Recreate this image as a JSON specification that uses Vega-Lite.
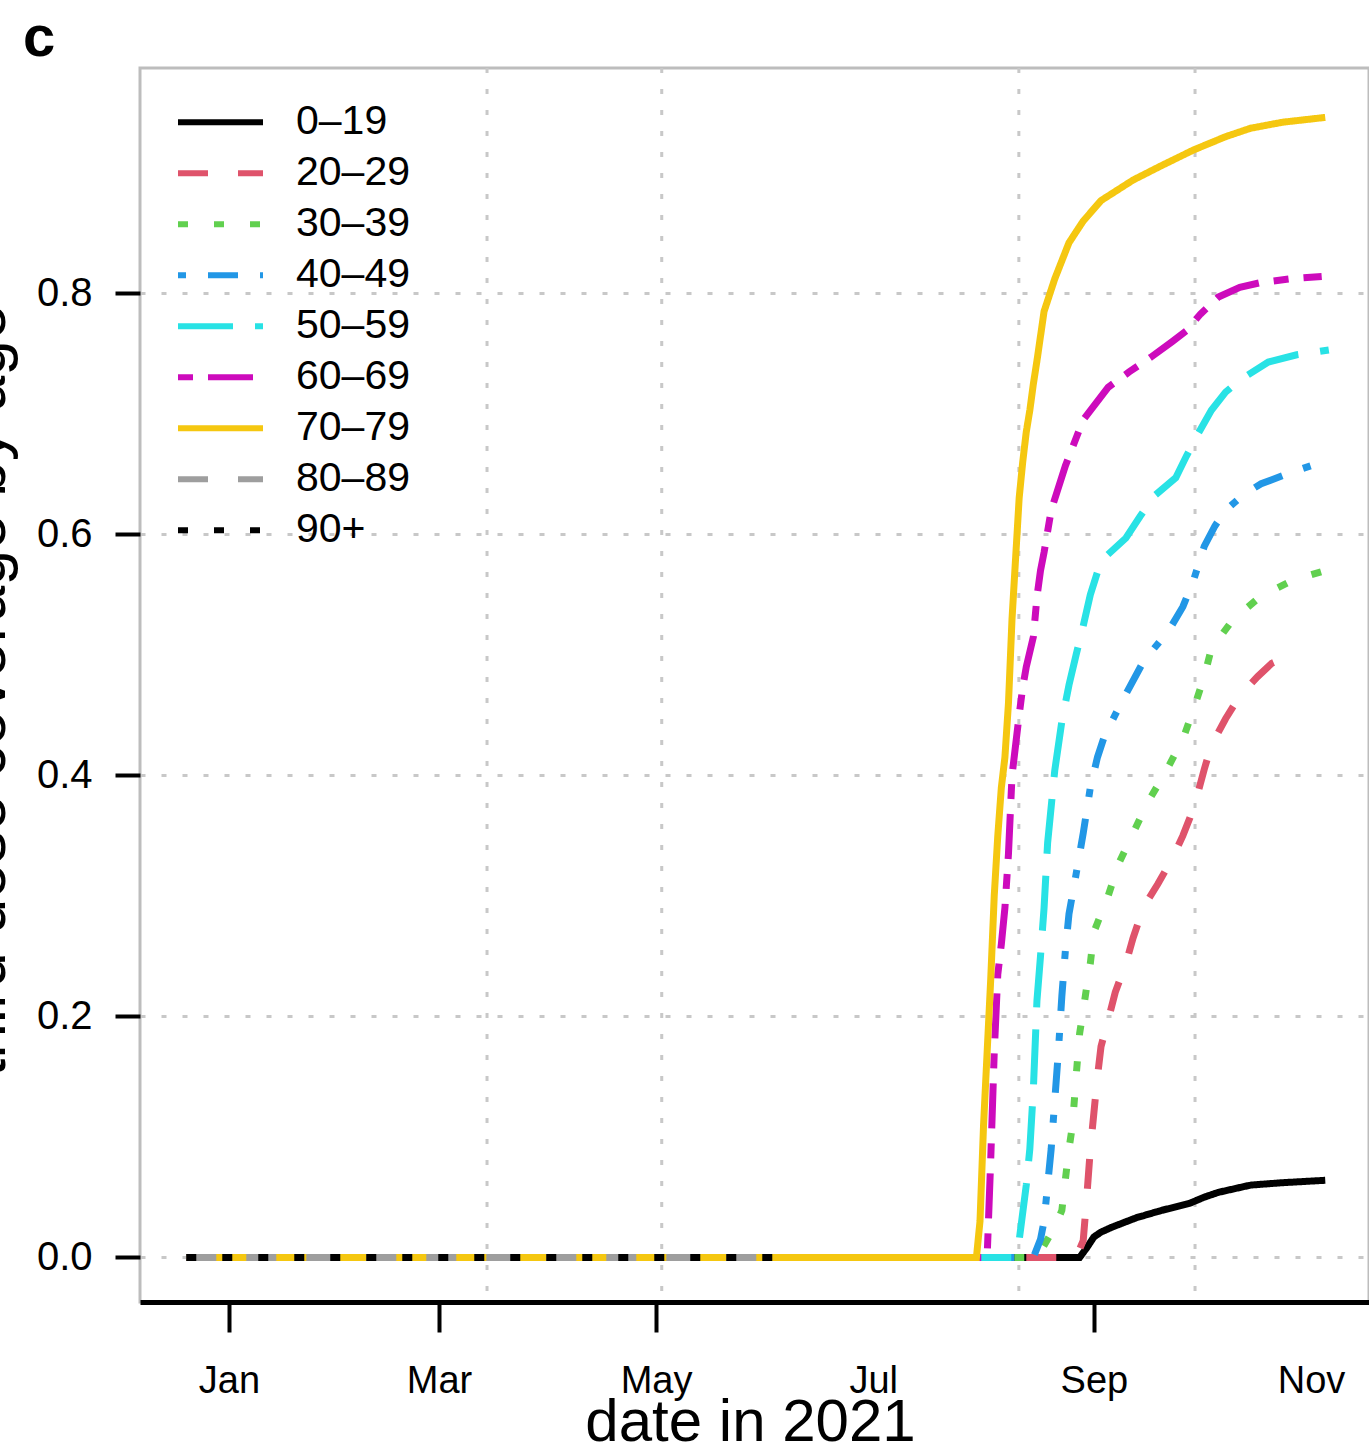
{
"$schema":"https://vega.github.io/schema/vega-lite/v6.json",
"width":1229,"height":1234,
"autosize":{"type":"none"},
"padding":{"left":140,"top":68,"right":0,"bottom":150},
"background":"white",
"config":{"font":"Liberation Sans","view":{"stroke":"#bdbdbd","strokeWidth":3}},
"title":{"text":"c","anchor":"start","frame":"group","orient":"top","fontSize":58,"fontWeight":"bold","font":"Liberation Sans","baseline":"alphabetic","offset":-47,"dx":-117,"color":"black"},
"datasets":{
"cov":[
{"g":"0–19","d":"2020-12-20","v":0},{"g":"0–19","d":"2021-08-28","v":0},{"g":"0–19","d":"2021-08-30","v":0.008},{"g":"0–19","d":"2021-09-01","v":0.017},{"g":"0–19","d":"2021-09-03","v":0.021},{"g":"0–19","d":"2021-09-06","v":0.025},{"g":"0–19","d":"2021-09-13","v":0.033},{"g":"0–19","d":"2021-09-20","v":0.039},{"g":"0–19","d":"2021-09-28","v":0.045},{"g":"0–19","d":"2021-10-02","v":0.05},{"g":"0–19","d":"2021-10-06","v":0.054},{"g":"0–19","d":"2021-10-15","v":0.06},{"g":"0–19","d":"2021-10-24","v":0.062},{"g":"0–19","d":"2021-11-05","v":0.064},
{"g":"20–29","d":"2020-12-20","v":0},{"g":"20–29","d":"2021-08-27","v":0},{"g":"20–29","d":"2021-08-29","v":0.014},{"g":"20–29","d":"2021-08-30","v":0.05},{"g":"20–29","d":"2021-08-31","v":0.09},{"g":"20–29","d":"2021-09-01","v":0.12},{"g":"20–29","d":"2021-09-02","v":0.15},{"g":"20–29","d":"2021-09-03","v":0.175},{"g":"20–29","d":"2021-09-05","v":0.197},{"g":"20–29","d":"2021-09-07","v":0.22},{"g":"20–29","d":"2021-09-10","v":0.244},{"g":"20–29","d":"2021-09-12","v":0.265},{"g":"20–29","d":"2021-09-15","v":0.291},{"g":"20–29","d":"2021-09-19","v":0.31},{"g":"20–29","d":"2021-09-23","v":0.331},{"g":"20–29","d":"2021-09-26","v":0.35},{"g":"20–29","d":"2021-09-28","v":0.365},{"g":"20–29","d":"2021-09-30","v":0.383},{"g":"20–29","d":"2021-10-02","v":0.405},{"g":"20–29","d":"2021-10-04","v":0.425},{"g":"20–29","d":"2021-10-08","v":0.447},{"g":"20–29","d":"2021-10-12","v":0.466},{"g":"20–29","d":"2021-10-17","v":0.482},{"g":"20–29","d":"2021-10-21","v":0.493},{"g":"20–29","d":"2021-10-28","v":0.502},
{"g":"30–39","d":"2020-12-20","v":0},{"g":"30–39","d":"2021-08-16","v":0},{"g":"30–39","d":"2021-08-18","v":0.01},{"g":"30–39","d":"2021-08-21","v":0.025},{"g":"30–39","d":"2021-08-23","v":0.039},{"g":"30–39","d":"2021-08-24","v":0.065},{"g":"30–39","d":"2021-08-25","v":0.09},{"g":"30–39","d":"2021-08-26","v":0.11},{"g":"30–39","d":"2021-08-27","v":0.15},{"g":"30–39","d":"2021-08-28","v":0.186},{"g":"30–39","d":"2021-08-29","v":0.205},{"g":"30–39","d":"2021-08-30","v":0.225},{"g":"30–39","d":"2021-08-31","v":0.244},{"g":"30–39","d":"2021-09-01","v":0.27},{"g":"30–39","d":"2021-09-05","v":0.3},{"g":"30–39","d":"2021-09-08","v":0.327},{"g":"30–39","d":"2021-09-12","v":0.352},{"g":"30–39","d":"2021-09-16","v":0.377},{"g":"30–39","d":"2021-09-21","v":0.402},{"g":"30–39","d":"2021-09-26","v":0.43},{"g":"30–39","d":"2021-09-29","v":0.455},{"g":"30–39","d":"2021-10-02","v":0.482},{"g":"30–39","d":"2021-10-04","v":0.505},{"g":"30–39","d":"2021-10-10","v":0.529},{"g":"30–39","d":"2021-10-18","v":0.549},{"g":"30–39","d":"2021-10-27","v":0.562},{"g":"30–39","d":"2021-11-05","v":0.57},
{"g":"40–49","d":"2020-12-20","v":0},{"g":"40–49","d":"2021-08-15","v":0},{"g":"40–49","d":"2021-08-17","v":0.015},{"g":"40–49","d":"2021-08-18","v":0.03},{"g":"40–49","d":"2021-08-19","v":0.06},{"g":"40–49","d":"2021-08-20","v":0.09},{"g":"40–49","d":"2021-08-21","v":0.13},{"g":"40–49","d":"2021-08-22","v":0.17},{"g":"40–49","d":"2021-08-23","v":0.217},{"g":"40–49","d":"2021-08-24","v":0.255},{"g":"40–49","d":"2021-08-25","v":0.285},{"g":"40–49","d":"2021-08-27","v":0.318},{"g":"40–49","d":"2021-08-29","v":0.352},{"g":"40–49","d":"2021-08-31","v":0.39},{"g":"40–49","d":"2021-09-02","v":0.415},{"g":"40–49","d":"2021-09-04","v":0.433},{"g":"40–49","d":"2021-09-09","v":0.462},{"g":"40–49","d":"2021-09-15","v":0.495},{"g":"40–49","d":"2021-09-22","v":0.52},{"g":"40–49","d":"2021-09-26","v":0.54},{"g":"40–49","d":"2021-09-29","v":0.562},{"g":"40–49","d":"2021-10-02","v":0.59},{"g":"40–49","d":"2021-10-05","v":0.607},{"g":"40–49","d":"2021-10-08","v":0.62},{"g":"40–49","d":"2021-10-13","v":0.633},{"g":"40–49","d":"2021-10-18","v":0.642},{"g":"40–49","d":"2021-10-26","v":0.651},{"g":"40–49","d":"2021-11-03","v":0.659},
{"g":"50–59","d":"2020-12-20","v":0},{"g":"50–59","d":"2021-08-09","v":0},{"g":"50–59","d":"2021-08-11","v":0.014},{"g":"50–59","d":"2021-08-13","v":0.06},{"g":"50–59","d":"2021-08-14","v":0.09},{"g":"50–59","d":"2021-08-15","v":0.14},{"g":"50–59","d":"2021-08-16","v":0.213},{"g":"50–59","d":"2021-08-17","v":0.25},{"g":"50–59","d":"2021-08-18","v":0.29},{"g":"50–59","d":"2021-08-19","v":0.344},{"g":"50–59","d":"2021-08-21","v":0.404},{"g":"50–59","d":"2021-08-23","v":0.445},{"g":"50–59","d":"2021-08-25","v":0.475},{"g":"50–59","d":"2021-08-27","v":0.5},{"g":"50–59","d":"2021-08-29","v":0.524},{"g":"50–59","d":"2021-08-31","v":0.55},{"g":"50–59","d":"2021-09-03","v":0.578},{"g":"50–59","d":"2021-09-10","v":0.597},{"g":"50–59","d":"2021-09-14","v":0.615},{"g":"50–59","d":"2021-09-18","v":0.632},{"g":"50–59","d":"2021-09-24","v":0.647},{"g":"50–59","d":"2021-09-27","v":0.665},{"g":"50–59","d":"2021-09-30","v":0.682},{"g":"50–59","d":"2021-10-04","v":0.703},{"g":"50–59","d":"2021-10-08","v":0.718},{"g":"50–59","d":"2021-10-12","v":0.728},{"g":"50–59","d":"2021-10-20","v":0.743},{"g":"50–59","d":"2021-10-28","v":0.749},{"g":"50–59","d":"2021-11-06","v":0.753},
{"g":"60–69","d":"2020-12-20","v":0},{"g":"60–69","d":"2021-08-02","v":0},{"g":"60–69","d":"2021-08-03","v":0.08},{"g":"60–69","d":"2021-08-04","v":0.17},{"g":"60–69","d":"2021-08-05","v":0.235},{"g":"60–69","d":"2021-08-06","v":0.26},{"g":"60–69","d":"2021-08-07","v":0.29},{"g":"60–69","d":"2021-08-08","v":0.335},{"g":"60–69","d":"2021-08-09","v":0.4},{"g":"60–69","d":"2021-08-10","v":0.425},{"g":"60–69","d":"2021-08-11","v":0.45},{"g":"60–69","d":"2021-08-12","v":0.473},{"g":"60–69","d":"2021-08-13","v":0.49},{"g":"60–69","d":"2021-08-15","v":0.515},{"g":"60–69","d":"2021-08-16","v":0.548},{"g":"60–69","d":"2021-08-17","v":0.57},{"g":"60–69","d":"2021-08-18","v":0.585},{"g":"60–69","d":"2021-08-20","v":0.62},{"g":"60–69","d":"2021-08-24","v":0.657},{"g":"60–69","d":"2021-08-29","v":0.695},{"g":"60–69","d":"2021-09-05","v":0.722},{"g":"60–69","d":"2021-09-11","v":0.735},{"g":"60–69","d":"2021-09-17","v":0.747},{"g":"60–69","d":"2021-09-23","v":0.76},{"g":"60–69","d":"2021-09-27","v":0.769},{"g":"60–69","d":"2021-10-01","v":0.783},{"g":"60–69","d":"2021-10-06","v":0.797},{"g":"60–69","d":"2021-10-12","v":0.805},{"g":"60–69","d":"2021-10-18","v":0.809},{"g":"60–69","d":"2021-10-26","v":0.812},{"g":"60–69","d":"2021-11-04","v":0.814},
{"g":"70–79","d":"2020-12-20","v":0},{"g":"70–79","d":"2021-07-30","v":0},{"g":"70–79","d":"2021-07-31","v":0.03},{"g":"70–79","d":"2021-08-01","v":0.11},{"g":"70–79","d":"2021-08-02","v":0.17},{"g":"70–79","d":"2021-08-03","v":0.23},{"g":"70–79","d":"2021-08-04","v":0.3},{"g":"70–79","d":"2021-08-05","v":0.35},{"g":"70–79","d":"2021-08-06","v":0.39},{"g":"70–79","d":"2021-08-07","v":0.415},{"g":"70–79","d":"2021-08-08","v":0.46},{"g":"70–79","d":"2021-08-09","v":0.53},{"g":"70–79","d":"2021-08-10","v":0.58},{"g":"70–79","d":"2021-08-11","v":0.63},{"g":"70–79","d":"2021-08-12","v":0.66},{"g":"70–79","d":"2021-08-13","v":0.685},{"g":"70–79","d":"2021-08-14","v":0.703},{"g":"70–79","d":"2021-08-15","v":0.725},{"g":"70–79","d":"2021-08-16","v":0.744},{"g":"70–79","d":"2021-08-18","v":0.785},{"g":"70–79","d":"2021-08-21","v":0.812},{"g":"70–79","d":"2021-08-25","v":0.842},{"g":"70–79","d":"2021-08-29","v":0.86},{"g":"70–79","d":"2021-09-03","v":0.877},{"g":"70–79","d":"2021-09-12","v":0.894},{"g":"70–79","d":"2021-09-20","v":0.906},{"g":"70–79","d":"2021-09-29","v":0.919},{"g":"70–79","d":"2021-10-08","v":0.93},{"g":"70–79","d":"2021-10-15","v":0.937},{"g":"70–79","d":"2021-10-24","v":0.942},{"g":"70–79","d":"2021-11-05","v":0.946},
{"g":"80–89","d":"2020-12-20","v":0},{"g":"80–89","d":"2021-06-04","v":0},
{"g":"90+","d":"2020-12-20","v":0},{"g":"90+","d":"2021-06-04","v":0}
],
"grid":[{"d":"2021-03-14T12:00:00Z"},{"d":"2021-05-02T14:00:00Z"},{"d":"2021-08-10T22:00:00Z"},{"d":"2021-09-29T10:00:00Z"}]
},
"encoding":{
"x":{"field":"d","type":"temporal",
 "scale":{"type":"utc","domain":[{"year":2020,"month":12,"date":7,"utc":true},{"year":2021,"month":11,"date":17,"hours":7,"utc":true}]},
 "axis":{"values":[{"year":2021,"month":1,"date":1,"utc":true},{"year":2021,"month":3,"date":1,"utc":true},{"year":2021,"month":5,"date":1,"utc":true},{"year":2021,"month":7,"date":1,"utc":true},{"year":2021,"month":9,"date":1,"utc":true},{"year":2021,"month":11,"date":1,"utc":true}],
  "format":"%b","title":"date in 2021","titleFontSize":60,"titleFontWeight":"normal","titleColor":"black","titleBaseline":"alphabetic","titleAlign":"center","titleX":610,"titleY":138,
  "domainColor":"black","domainWidth":5,
  "tickColor":{"condition":{"test":"utcmonth(datum.value)==6 || utcmonth(datum.value)==10","value":"transparent"},"value":"black"},
  "tickWidth":4,"tickSize":30,"labelFontSize":38,"labelColor":"black","labelPadding":30,"grid":false,"labelFlush":false,"labelOverlap":false}}
},
"layer":[
{"data":{"name":"grid"},
 "mark":{"type":"rule","stroke":"#c8c8c8","strokeWidth":3,"strokeDash":[5,16]}},
{"data":{"name":"cov"},
 "mark":{"type":"line","strokeWidth":7,"strokeCap":"butt"},
 "encoding":{
  "y":{"field":"v","type":"quantitative","scale":{"domain":[-0.037,0.987],"nice":false,"zero":false},
   "axis":{"values":[0,0.2,0.4,0.6,0.8],"format":".1f","title":"third dose coverage by age","titleFontSize":64,"titleFontWeight":"normal","titleColor":"black","titleAngle":270,"titleBaseline":"alphabetic","titleAlign":"center","titleX":-136,"titleY":622,
    "domain":false,"tickColor":"black","tickWidth":4,"tickSize":25,"labelFontSize":40,"labelColor":"black","labelPadding":23,
    "grid":true,"gridColor":"#c8c8c8","gridWidth":3,"gridDash":[5,16]}},
  "color":{"field":"g","type":"nominal",
   "scale":{"domain":["0–19","20–29","30–39","40–49","50–59","60–69","70–79","80–89","90+"],"range":["#000000","#DF536B","#61D04F","#2297E6","#28E2E5","#CD0BBC","#F5C710","#9E9E9E","#000000"]},
   "legend":{"title":null,"orient":"none","legendX":35,"legendY":30,"symbolType":"stroke","symbolSize":7225,"symbolStrokeWidth":6,"clipHeight":48.7,"rowPadding":2,"labelFontSize":41,"labelColor":"black","labelOffset":30,"padding":0,"labelFont":"Liberation Sans"}},
  "strokeDash":{"field":"g","type":"nominal",
   "scale":{"domain":["0–19","20–29","30–39","40–49","50–59","60–69","70–79","80–89","90+"],"range":[[1,0],[30,30],[10,26],[8,22,30,22],[55,22],[15,15,45,15],[1,0],[30,30],[10,26]]},
   "legend":{"title":null,"orient":"none","legendX":35,"legendY":30,"symbolType":"stroke","symbolSize":7225,"symbolStrokeWidth":6,"clipHeight":48.7,"rowPadding":2,"labelFontSize":41,"labelColor":"black","labelOffset":30,"padding":0,"labelFont":"Liberation Sans"}}
 }}
]
}
